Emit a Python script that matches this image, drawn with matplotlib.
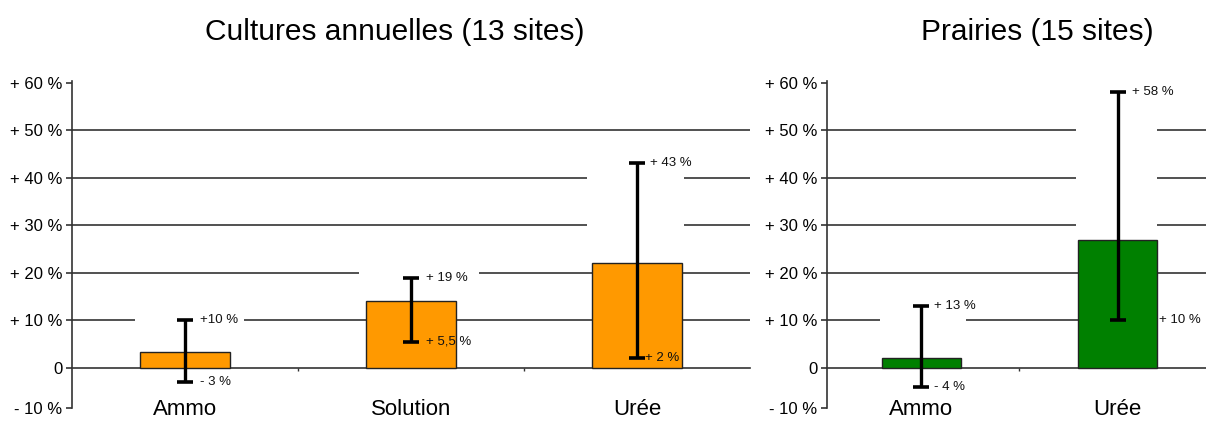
import matplotlib.pyplot as plt
from matplotlib.patches import Rectangle

plt.rcParams['font.family'] = ['Liberation Sans', 'DejaVu Sans']

# Cultures annuelles (13 sites)
cult_cats = ['Ammo', 'Solution', 'Urée']
cult_mean = [3.3, 14, 22]
cult_low = [-3, 5.5, 2]
cult_high = [10, 19, 43]
cult_low_txt = ['- 3 %', '+ 5,5 %', '+ 2 %']
cult_high_txt = ['+10 %', '+ 19 %', '+ 43 %']

# Prairies (15 sites)
prai_cats = ['Ammo', 'Urée']
prai_mean = [2, 27]
prai_low = [-4, 10]
prai_high = [13, 58]
prai_low_txt = ['- 4 %', '+ 10 %']
prai_high_txt = ['+ 13 %', '+ 58 %']

yticks = [-8.4, 0, 10, 20, 30, 40, 50, 60]
ytick_labels = ['- 10 %', '0', '+ 10 %', '+ 20 %', '+ 30 %', '+ 40 %', '+ 50 %', '+ 60 %']
grid_vals = [10, 20, 30, 40, 50]

# white boxes behind the value labels (they hide parts of the grid lines)
cult_masks = [(-0.22, 0.26, 7, 13), (0.77, 1.30, 17, 23), (1.78, 2.21, 27, 43)]
prai_masks = [(-0.21, 0.23, 7, 13), (0.79, 1.20, 27, 53), (1.19, 1.6, 7, 13)]

GRID = '#333333'


def panel(ax, cats, mean, low, high, low_txt, high_txt, color, masks,
          xlim, low_off, high_off):
    x = list(range(len(cats)))
    ax.set_xlim(*xlim)
    ax.set_ylim(-8.4, 60.4)
    for v in grid_vals:
        ax.axhline(v, color=GRID, lw=1.2, zorder=1)
    for (x0, x1, y0, y1) in masks:
        ax.add_patch(Rectangle((x0, y0), x1 - x0, y1 - y0, facecolor='white',
                               edgecolor='none', zorder=2))
    ax.bar(x, mean, width=0.4, color=color, edgecolor='#222222', lw=1, zorder=3)
    err = [[m - l for m, l in zip(mean, low)], [h - m for m, h in zip(mean, high)]]
    ax.errorbar(x, mean, yerr=err, fmt='none', ecolor='black', elinewidth=2.4,
                capsize=6, capthick=2.6, zorder=4)
    for i in x:
        ax.annotate(high_txt[i], (i, high[i]), xytext=(high_off[i], 0),
                    textcoords='offset points', va='center', ha='left',
                    fontsize=9.5, color='#111111', zorder=5)
        ax.annotate(low_txt[i], (i, low[i]), xytext=(low_off[i], 0),
                    textcoords='offset points', va='center', ha='left',
                    fontsize=9.5, color='#111111', zorder=5)

    ax.spines['top'].set_visible(False)
    ax.spines['right'].set_visible(False)
    ax.spines['left'].set_color(GRID)
    ax.spines['left'].set_linewidth(1.2)
    ax.spines['bottom'].set_position(('data', 0))
    ax.spines['bottom'].set_color(GRID)
    ax.spines['bottom'].set_linewidth(1.2)

    ax.set_yticks(yticks)
    ax.set_yticklabels(ytick_labels)
    ax.tick_params(axis='y', direction='out', length=4, width=1.2, color=GRID,
                   labelsize=12, pad=3)
    ax.set_xticks(x)
    ax.set_xticklabels(cats)
    ax.tick_params(axis='x', length=0, labelsize=16, pad=22)
    ax.set_xticks([i + 0.5 for i in x[:-1]], minor=True)
    ax.tick_params(axis='x', which='minor', direction='out', length=2.5,
                   width=1, color=GRID)


fig = plt.figure(figsize=(12.06, 4.21), dpi=100)

ax1 = fig.add_axes([0.0597, 0.031, 0.5622, 0.7775])
panel(ax1, cult_cats, cult_mean, cult_low, cult_high, cult_low_txt, cult_high_txt,
      '#FF9900', cult_masks, (-0.5, 2.5), [11, 11, 6], [11, 11, 9])

ax2 = fig.add_axes([0.6857, 0.031, 0.3143, 0.7775])
panel(ax2, prai_cats, prai_mean, prai_low, prai_high, prai_low_txt, prai_high_txt,
      '#008000', prai_masks, (-0.48, 1.45), [9, 30], [9, 10])

fig.text(0.327, 0.925, 'Cultures annuelles (13 sites)', ha='center', va='center',
         fontsize=21.5)
fig.text(0.86, 0.925, 'Prairies (15 sites)', ha='center', va='center',
         fontsize=21.5)

fig.savefig('out.png', dpi=100)
